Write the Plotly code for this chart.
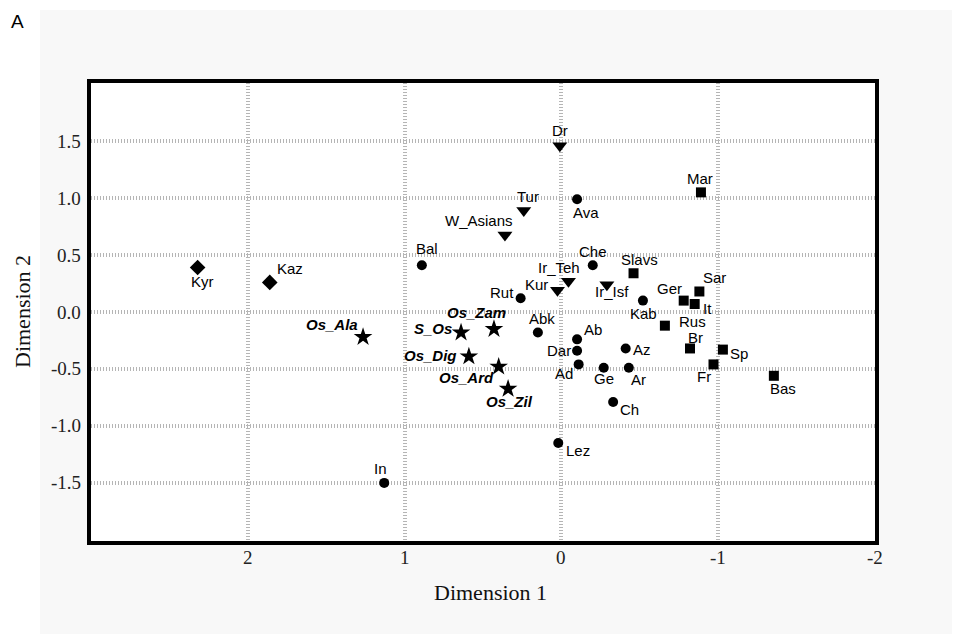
import plotly.graph_objects as go

# ---- data ----
diamond_names = ["Kyr", "Kaz"]
diamond_x = [2.32, 1.86]
diamond_y = [0.39, 0.26]

star_names = ["Os_Ala", "S_Os", "Os_Zam", "Os_Dig", "Os_Ard", "Os_Zil"]
star_x = [1.265, 0.64, 0.43, 0.59, 0.40, 0.34]
star_y = [-0.22, -0.18, -0.15, -0.39, -0.48, -0.675]

tri_names = ["Dr", "Tur", "W_Asians", "Ir_Teh", "Kur", "Ir_Isf"]
tri_x = [0.01, 0.24, 0.36, -0.045, 0.025, -0.29]
tri_y = [1.46, 0.89, 0.675, 0.27, 0.19, 0.24]

circle_names = ["Ava", "Bal", "Che", "Rut", "Kab", "Abk", "Ab", "Dar", "Ad", "Ge",
                "Az", "Ar", "Ch", "Lez", "In"]
circle_x = [-0.10, 0.89, -0.20, 0.26, -0.52, 0.15, -0.10, -0.10, -0.11, -0.27,
            -0.41, -0.43, -0.33, 0.02, 1.13]
circle_y = [0.99, 0.41, 0.41, 0.12, 0.10, -0.18, -0.24, -0.34, -0.46, -0.49,
            -0.32, -0.49, -0.79, -1.15, -1.50]

square_names = ["Mar", "Slavs", "Sar", "Ger", "It", "Rus", "Br", "Sp", "Fr", "Bas"]
square_x = [-0.89, -0.46, -0.88, -0.78, -0.85, -0.66, -0.82, -1.03, -0.97, -1.355]
square_y = [1.05, 0.34, 0.18, 0.10, 0.07, -0.12, -0.32, -0.33, -0.46, -0.56]

x_ticks = [2, 1, 0, -1, -2]
x_tick_labels = ["2", "1", "0", "-1", "-2"]
y_ticks = [1.5, 1.0, 0.5, 0.0, -0.5, -1.0, -1.5]
y_tick_labels = ["1.5", "1.0", "0.5", "0.0", "-0.5", "-1.0", "-1.5"]

# ---- label placement (pixel offsets: dx right, dy down) ----
label_offsets = {
    "Kyr": (5, 14), "Kaz": (20, -14),
    "Os_Ala": (-31, -13), "S_Os": (-28, -4), "Os_Zam": (-17, -17),
    "Os_Dig": (-38, -1), "Os_Ard": (-32, 11), "Os_Zil": (1, 13),
    "Dr": (0, -15), "Tur": (4, -14), "W_Asians": (-26, -15),
    "Ir_Teh": (-9, -14), "Kur": (-21, -6), "Ir_Isf": (5, 7),
    "Ava": (9, 13), "Bal": (5, -17), "Che": (0, -14), "Rut": (-19, -6),
    "Kab": (1, 13), "Abk": (4, -14), "Ab": (16, -10), "Dar": (-18, 0),
    "Ad": (-15, 9), "Ge": (0, 11), "Az": (16, 1), "Ar": (10, 12),
    "Ch": (16, 7), "Lez": (20, 7), "In": (-4, -14),
    "Mar": (-1, -14), "Slavs": (6, -14), "Sar": (15, -14), "Ger": (-14, -12),
    "It": (13, 4), "Rus": (28, -4), "Br": (6, -11), "Sp": (16, 4),
    "Fr": (-10, 12), "Bas": (9, 13),
}

groups = [
    (diamond_names, diamond_x, diamond_y, "diamond", 12),
    (star_names, star_x, star_y, "star", 14),
    (tri_names, tri_x, tri_y, "triangle-down", 13),
    (circle_names, circle_x, circle_y, "circle", 10),
    (square_names, square_x, square_y, "square", 10),
]

sans = "Liberation Sans, Arial, sans-serif"
serif = "Liberation Serif, Times New Roman, serif"

fig = go.Figure()
annotations = []
for names, xs, ys, sym, size in groups:
    fig.add_trace(go.Scatter(
        x=xs, y=ys, mode="markers",
        marker=dict(symbol=sym, size=size, color="black", line=dict(width=0)),
        showlegend=False, hoverinfo="text", text=names,
    ))
    for n, xv, yv in zip(names, xs, ys):
        dx, dy = label_offsets[n]
        txt = f"<b><i>{n}</i></b>" if sym == "star" else n
        annotations.append(dict(
            x=xv, y=yv, xref="x", yref="y", text=txt, showarrow=False,
            xanchor="center", yanchor="middle", xshift=dx, yshift=-dy,
            font=dict(family=sans, size=15, color="black"),
        ))

# page has an 8px body margin; layout is expressed in page pixels
OFF = 8
W, H = 960, 634
L, T = 91 - OFF, 83 - OFF
R = W - (875 - OFF)
B = H - (541 - OFF)
pw, ph = W - L - R, H - T - B

def px_x(p):
    return ((p - OFF) - L) / pw

def px_y(p):
    return 1 - ((p - OFF) - T) / ph

for v, t in zip(x_ticks, x_tick_labels):
    annotations.append(dict(x=v, y=px_y(557), xref="x", yref="paper", text=t,
                            showarrow=False, xanchor="center", yanchor="middle",
                            font=dict(family=serif, size=19, color="#222")))
for v, t in zip(y_ticks, y_tick_labels):
    annotations.append(dict(x=px_x(83), y=v, xref="paper", yref="y", text=t,
                            showarrow=False, xanchor="right", yanchor="middle",
                            font=dict(family=serif, size=19, color="#222")))

annotations += [
    dict(x=px_x(490), y=px_y(592), xref="paper", yref="paper", text="Dimension 1",
         showarrow=False, xanchor="center", yanchor="middle",
         font=dict(family=serif, size=22, color="#111")),
    dict(x=px_x(22), y=px_y(312), xref="paper", yref="paper", text="Dimension 2",
         showarrow=False, xanchor="center", yanchor="middle", textangle=-90,
         font=dict(family=serif, size=22, color="#111")),
    dict(x=px_x(17), y=px_y(21), xref="paper", yref="paper", text="A",
         showarrow=False, xanchor="center", yanchor="middle",
         font=dict(family=sans, size=19, color="black")),
]

shapes = [
    dict(type="rect", xref="paper", yref="paper", x0=px_x(-20), x1=px_x(40),
         y0=px_y(H + 20), y1=px_y(-20), fillcolor="white", line=dict(width=0), layer="below"),
    dict(type="rect", xref="paper", yref="paper", x0=px_x(-20), x1=px_x(W + 20),
         y0=px_y(10), y1=px_y(-20), fillcolor="white", line=dict(width=0), layer="below"),
]

grid = dict(showgrid=True, gridcolor="#b5b5b5", gridwidth=4, griddash="1px,2px",
            zeroline=False, showline=True, linecolor="black", linewidth=4, mirror=True,
            ticks="", showticklabels=False)

fig.update_layout(
    width=W, height=H,
    margin=dict(l=L, r=R, t=T, b=B),
    paper_bgcolor="#f8f8f8", plot_bgcolor="white",
    xaxis=dict(range=[3.0, -2.0], tickvals=x_ticks, **grid),
    yaxis=dict(range=[-2.01, 2.01], tickvals=y_ticks, **grid),
    annotations=annotations, shapes=shapes,
)

fig.write_html("out.html")
